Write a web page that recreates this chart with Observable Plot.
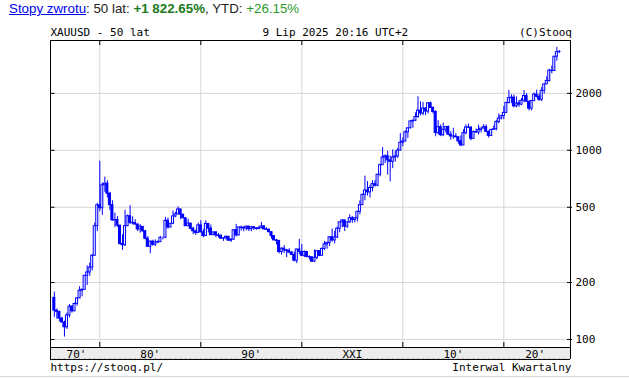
<!DOCTYPE html>
<html><head><meta charset="utf-8">
<script src="https://cdn.jsdelivr.net/npm/d3@7"></script>
<script src="https://cdn.jsdelivr.net/npm/@observablehq/plot@0.6"></script>
<style>
html,body{margin:0;padding:0;background:#fff;}
#wrap{position:relative;width:629px;height:379px;overflow:hidden;background:#fff;}
#chart{position:absolute;left:0;top:0;}
#title{position:absolute;left:9px;top:1px;font-family:"Liberation Sans",Arial,sans-serif;font-size:13.33px;line-height:16px;color:#222;white-space:nowrap;}
#title a{color:#0000ee;text-decoration:underline;}
#title .g1{color:#1a7a1a;font-weight:bold;}
#title .g2{color:#2a9a2a;}
#bottomline{position:absolute;left:0;top:376px;width:629px;height:1px;background:#d8d8d8;}
</style></head>
<body>
<div id="wrap">
  <div id="chart"></div>
  <div id="title"><a>Stopy zwrotu</a>: 50 lat: <span class="g1">+1 822.65%</span>, YTD: <span class="g2">+26.15%</span></div>
  <div id="bottomline"></div>
</div>
<script>
// XAUUSD quarterly candles, 1975 Q3 .. 2025 Q3 (open = previous close)
const startYear = 1975.5;   // 1975 Q3
const firstOpen = 166;
const closeP = [
  142,140,
  129,123,116,134, 149,141,154,165, 181,183,217,226, 240,277,397,512,
  494,653,666,590, 513,426,428,400, 320,315,397,448, 414,412,405,382,
  394,373,341,309, 329,317,326,327, 345,345,424,391, 409,447,459,487,
  457,437,397,410, 385,373,366,401, 369,352,408,386, 356,368,355,353,
  341,343,349,333, 337,378,355,391, 389,386,395,383, 392,387,384,387,
  396,382,379,369, 352,334,332,290, 302,296,294,288, 280,261,299,290,
  277,290,273,272, 258,270,293,277, 301,318,323,347, 334,346,385,416,
  426,395,416,438, 428,437,473,513, 582,613,599,632, 662,650,743,834,
  916,930,884,869, 916,927,996,1096, 1113,1244,1307,1421, 1432,1500,1620,1566,
  1662,1604,1772,1675, 1595,1234,1326,1202, 1284,1327,1210,1184, 1183,1172,1115,1061,
  1232,1321,1315,1151, 1249,1241,1280,1303, 1325,1252,1192,1282, 1292,1409,1472,1517,
  1577,1781,1886,1898, 1708,1770,1743,1829, 1937,1807,1660,1824, 1969,1919,1849,2063,
  2230,2326,2635,2625, 3124,3303,3316
];
const highP = [
  178,145,
  141,131,125,138, 153,151,156,166, 190,185,218,245, 253,282,412,524,
  875,672,722,690, 600,541,465,446, 400,358,482,455, 510,445,430,409,
  405,394,377,350, 331,335,336,332, 350,348,442,438, 410,477,470,502,
  487,458,440,432, 410,392,378,412, 424,382,424,410, 403,370,372,364,
  358,345,352,350, 340,380,406,392, 397,395,396,397, 392,396,388,396,
  416,399,390,386, 370,352,338,333, 305,313,299,302, 292,290,300,338,
  318,294,292,277, 273,298,293,294, 305,330,327,350, 383,372,392,417,
  430,427,416,456, 447,441,474,540, 585,730,683,650, 690,692,745,848,
  1033,946,988,932, 1006,990,1024,1226, 1161,1266,1310,1431, 1447,1577,1921,1803,
  1792,1678,1788,1796, 1693,1617,1434,1361, 1392,1332,1345,1255, 1307,1224,1178,1191,
  1283,1362,1375,1337, 1264,1296,1357,1306, 1366,1365,1265,1287, 1346,1439,1557,1524,
  1703,1789,2075,1965, 1959,1916,1834,1877, 2070,1998,1814,1833, 2009,2082,1987,2146,
  2236,2450,2685,2790, 3128,3500,3365
];
const lowP = [
  131,128,
  124,122,103,113, 130,138,140,150, 165,168,182,193, 216,230,276,372,
  474,453,600,560, 480,422,390,392, 315,296,310,396, 405,403,404,372,
  365,370,336,307, 284,311,310,320, 326,336,341,383, 390,405,440,455,
  430,436,397,396, 380,358,355,364, 366,345,352,366, 355,355,345,344,
  339,330,335,331, 326,336,348,353, 374,371,375,372, 371,377,378,380,
  385,380,378,366, 339,334,316,283, 279,285,271,285, 278,257,252,281,
  274,271,270,263, 255,255,264,274, 277,295,300,310, 327,320,342,367,
  390,372,386,411, 411,413,418,456, 512,541,573,560, 603,640,642,724,
  833,850,740,681, 800,866,908,990, 1044,1107,1157,1300, 1308,1418,1478,1523,
  1523,1527,1555,1662, 1555,1180,1207,1181, 1182,1240,1206,1131, 1142,1162,1077,1046,
  1061,1208,1310,1123, 1146,1240,1205,1236, 1302,1245,1160,1183, 1276,1266,1381,1446,
  1451,1568,1757,1764, 1677,1677,1687,1721, 1780,1805,1614,1617, 1805,1893,1815,1810,
  1984,2228,2293,2536, 2614,2957,3248
];
const yTicks = [100, 200, 500, 1000, 2000];
const decades = [1980, 1990, 2000, 2010, 2020];
const decadeLabels = ["70'", "80'", "90'", "XXI", "10'", "20'"];
const decadeLabelPos = [1977.7, 1985, 1995, 2005, 2015, 2023.1];

const xDomain = [1975.12, 2026.6];
const yDomain = [90.7, 3806];
const bandLow = 78.4;   // bottom of the year band under the frame

const candles = closeP.map((c, i) => ({
  t: startYear + i / 4,
  o: i ? closeP[i - 1] : firstOpen,
  h: highP[i], l: lowP[i], c
}));

const blue = "#0000ff";
const mono = "DejaVu Sans Mono, monospace";
const grid = "#d6d6d6";

const chart = Plot.plot({
  width: 629, height: 379,
  marginLeft: 50, marginRight: 59, marginTop: 40, marginBottom: 32,
  style: {background: "transparent", overflow: "visible"},
  x: {domain: xDomain, axis: null},
  y: {type: "log", domain: yDomain, axis: null},
  marks: [
    Plot.rect([0], {x1: xDomain[0], x2: xDomain[1], y1: bandLow, y2: yDomain[0], fill: "#ececec"}),
    Plot.ruleX(d3.range(1975.5, 2026.5, 0.5), {y1: bandLow, y2: bandLow * 1.01, stroke: "#999"}),
    Plot.gridX(decades, {stroke: grid, strokeOpacity: 1}),
    Plot.gridY(yTicks, {stroke: grid, strokeOpacity: 1}),
    Plot.ruleX(candles, {x: "t", y1: "l", y2: "h", stroke: blue}),
    Plot.rect(candles.filter(d => d.c >= d.o), {x1: d => d.t - 0.1, x2: d => d.t + 0.1, y1: "o", y2: "c", fill: "white", stroke: blue}),
    Plot.rect(candles.filter(d => d.c < d.o), {x1: d => d.t - 0.1, x2: d => d.t + 0.1, y1: "o", y2: "c", fill: blue, stroke: blue}),
    Plot.frame({stroke: "black"}),
    Plot.ruleY([bandLow], {stroke: "black"}),
    Plot.ruleX(xDomain, {y1: bandLow, y2: yDomain[0], stroke: "black"}),
    Plot.ruleX(decades, {y1: yDomain[1], y2: yDomain[1] / 1.063, stroke: "black"}),
    Plot.ruleX(decades, {y1: yDomain[0], y2: yDomain[0] * 1.063, stroke: "black"}),
    Plot.ruleY(yTicks, {x1: xDomain[0], x2: xDomain[0] + 0.45, stroke: "black"}),
    Plot.ruleY(yTicks, {x1: xDomain[1] - 0.3, x2: xDomain[1] + 0.2, stroke: "black"}),
    Plot.text(yTicks, {y: d => d, text: d => String(d), frameAnchor: "right", dx: 5, textAnchor: "start", fontFamily: mono, fontSize: 11, fill: "black"}),
    Plot.text(decadeLabelPos, {x: d => d, text: (d, i) => decadeLabels[i], frameAnchor: "bottom", lineAnchor: "bottom", dy: 10, fontFamily: mono, fontSize: 11, fill: "black"}),
    Plot.text(["XAUUSD - 50 lat"], {text: d => d, frameAnchor: "top-left", textAnchor: "start", lineAnchor: "bottom", dy: -5, fontFamily: mono, fontSize: 11, fill: "black"}),
    Plot.text(["9 Lip 2025 20:16 UTC+2"], {text: d => d, frameAnchor: "top", textAnchor: "start", lineAnchor: "bottom", dx: -48, dy: -5, fontFamily: mono, fontSize: 11, fill: "black"}),
    Plot.text(["(C)Stooq"], {text: d => d, frameAnchor: "top-right", textAnchor: "end", lineAnchor: "bottom", dx: 1.5, dy: -5, fontFamily: mono, fontSize: 11, fill: "black"}),
    Plot.text(["https://stooq.pl/"], {text: d => d, frameAnchor: "bottom-left", textAnchor: "start", lineAnchor: "bottom", dy: 23, fontFamily: mono, fontSize: 11, fill: "black"}),
    Plot.text(["Interwal Kwartalny"], {text: d => d, frameAnchor: "bottom-right", textAnchor: "end", lineAnchor: "bottom", dx: 1, dy: 23, fontFamily: mono, fontSize: 11, fill: "black"})
  ]
});
document.getElementById("chart").appendChild(chart);
</script>
</body></html>
